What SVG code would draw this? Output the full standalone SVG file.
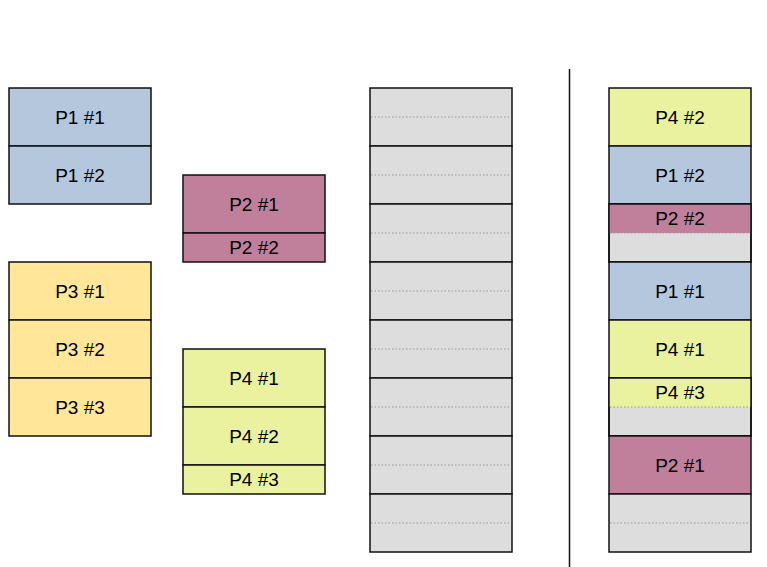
<svg xmlns="http://www.w3.org/2000/svg" width="767" height="567" viewBox="0 0 767 567">
<style>
rect{stroke:#111;stroke-width:1.5}
.b{fill:#B5C7DC}.m{fill:#C0809C}.y{fill:#FFE699}.l{fill:#EAF2A0}.g{fill:#DDDDDD}
.d{stroke:#999;stroke-width:1;stroke-dasharray:1.5 2;fill:none}
text{font-family:"Liberation Sans",Arial,sans-serif;font-size:19px;fill:#000;text-anchor:middle;dominant-baseline:central}
</style>
<rect width="767" height="567" fill="#fff" style="stroke:none"/>
<g id="p1">
<rect class="b" x="9" y="88" width="142" height="58"/><text x="80" y="117">P1 #1</text>
<rect class="b" x="9" y="146" width="142" height="58"/><text x="80" y="175">P1 #2</text>
</g>
<g id="p2">
<rect class="m" x="183" y="175" width="142" height="58"/><text x="254" y="204">P2 #1</text>
<rect class="m" x="183" y="233" width="142" height="29"/><text x="254" y="247.5">P2 #2</text>
</g>
<g id="p3">
<rect class="y" x="9" y="262" width="142" height="58"/><text x="80" y="291">P3 #1</text>
<rect class="y" x="9" y="320" width="142" height="58"/><text x="80" y="349">P3 #2</text>
<rect class="y" x="9" y="378" width="142" height="58"/><text x="80" y="407">P3 #3</text>
</g>
<g id="p4">
<rect class="l" x="183" y="349" width="142" height="58"/><text x="254" y="378">P4 #1</text>
<rect class="l" x="183" y="407" width="142" height="58"/><text x="254" y="436">P4 #2</text>
<rect class="l" x="183" y="465" width="142" height="29"/><text x="254" y="479.5">P4 #3</text>
</g>
<g id="memory">
<rect class="g" x="370" y="88" width="142" height="58"/>
<rect class="g" x="370" y="146" width="142" height="58"/>
<rect class="g" x="370" y="204" width="142" height="58"/>
<rect class="g" x="370" y="262" width="142" height="58"/>
<rect class="g" x="370" y="320" width="142" height="58"/>
<rect class="g" x="370" y="378" width="142" height="58"/>
<rect class="g" x="370" y="436" width="142" height="58"/>
<rect class="g" x="370" y="494" width="142" height="58"/>
<path class="d" d="M371 117H511M371 175H511M371 233H511M371 291H511M371 349H511M371 407H511M371 465H511M371 523H511"/>
</g>
<g id="divider">
<path d="M569.5 69V567" stroke="#111" stroke-width="1.5"/>
</g>
<g id="allocated">
<rect class="l" x="609" y="88" width="142" height="58"/><text x="680" y="117">P4 #2</text>
<rect class="b" x="609" y="146" width="142" height="58"/><text x="680" y="175">P1 #2</text>
<rect class="g" x="609" y="204" width="142" height="58"/>
<rect class="m" x="609" y="204" width="142" height="29" style="stroke:none"/>
<rect x="609" y="204" width="142" height="58" style="fill:none"/>
<text x="680" y="218.5">P2 #2</text>
<rect class="b" x="609" y="262" width="142" height="58"/><text x="680" y="291">P1 #1</text>
<rect class="l" x="609" y="320" width="142" height="58"/><text x="680" y="349">P4 #1</text>
<rect class="g" x="609" y="378" width="142" height="58"/>
<rect class="l" x="609" y="378" width="142" height="29" style="stroke:none"/>
<rect x="609" y="378" width="142" height="58" style="fill:none"/>
<text x="680" y="392.5">P4 #3</text>
<rect class="m" x="609" y="436" width="142" height="58"/><text x="680" y="465">P2 #1</text>
<rect class="g" x="609" y="494" width="142" height="58"/>
<path class="d" d="M610 233H750M610 407H750M610 523H750"/>
</g>
</svg>
